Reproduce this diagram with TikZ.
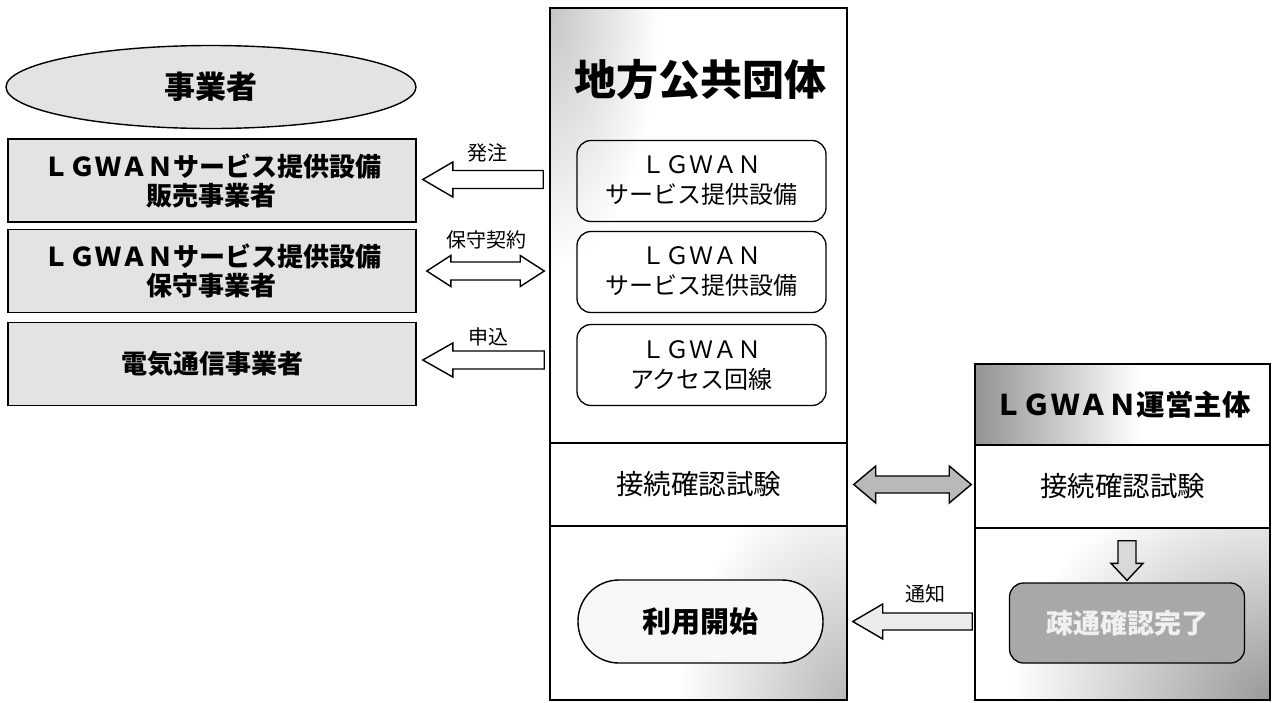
\documentclass[tikz,border=0pt]{standalone}
\usepackage{fontspec}
\setmainfont{Noto Sans CJK JP}
\usetikzlibrary{calc,shapes.geometric}
\newcommand\blockarrow[6][]{%
\draw[#1]($(#2)!#4!90:(#3)$)--($(#3)!#6!(#2)!#4!-90:(#2)$)--($(#3)!#6!(#2)!#5!-90:(#2)$)--(#3)
--($(#3)!#6!(#2)!#5!90:(#2)$)--($(#3)!#6!(#2)!#4!90:(#2)$)--($(#2)!#4!-90:(#3)$)--cycle;}
\newcommand\blockarrows[6][]{%
\draw[#1](#2)--($(#2)!#6!(#3)!#5!90:(#3)$)--($(#2)!#6!(#3)!#4!90:(#3)$)--($(#3)!#6!(#2)!#4!-90:(#2)$)
--($(#3)!#6!(#2)!#5!-90:(#2)$)--(#3)--($(#3)!#6!(#2)!#5!90:(#2)$)--($(#3)!#6!(#2)!#4!90:(#2)$)
--($(#2)!#6!(#3)!#4!-90:(#3)$)--($(#2)!#6!(#3)!#5!-90:(#3)$)--cycle;}
\tikzset{
dotfill/.style={fill=gray!22},
sbox/.style={draw,line width=1.6pt,dotfill,minimum width=408pt,minimum height=83pt,inner sep=0pt,
 align=center,font=\bfseries\fontsize{26}{29}\selectfont},
ibox/.style={draw,line width=1.3pt,rounded corners=14pt,minimum width=249pt,minimum height=81pt,
 inner sep=0pt,align=center,font=\fontsize{24}{30}\selectfont},
band/.style={draw,line width=1.5pt,inner sep=0pt,font=\fontsize{27.5}{27.5}\selectfont},
lab/.style={inner sep=0pt,font=\fontsize{20}{20}\selectfont},
barrow/.style={draw,line width=1.4pt,fill=white,line join=miter},
glow/.style={inner color=gray!#1,outer color=white}
}
\begin{document}
\begin{tikzpicture}[x=1pt,y=-1pt,semithick]
\useasboundingbox (0,0) rectangle (1272,702);
\begin{scope}
\clip (550,8) rectangle (847,443);
\shade[glow=45](550pt,-8pt) ellipse (110pt and 260pt);
\end{scope}
\begin{scope}
\clip (550,526) rectangle (847,700);
\shade[glow=55](847pt,-700pt) ellipse (170pt and 220pt);
\end{scope}
\shade[left color=gray!85,right color=white](975,364) rectangle (1140,445);
\begin{scope}
\clip (975,528) rectangle (1270,700);
\shade[glow=80](1270pt,-700pt) ellipse (260pt and 230pt);
\end{scope}
\node[ellipse,draw,line width=1.4pt,dotfill,minimum width=410pt,minimum height=83pt,inner sep=0pt,
 font=\bfseries\fontsize{31}{31}\selectfont](biz) at (211,87) {事業者};
\node[sbox](sell) at (212,180.5) {ＬＧＷＡＮサービス提供設備\\販売事業者};
\node[sbox](maint) at (212,271) {ＬＧＷＡＮサービス提供設備\\保守事業者};
\node[sbox](tel) at (212,364) {電気通信事業者};
\node[band,minimum width=297pt,minimum height=435pt](lgtop) at (698.5,225.5) {};
\node[band,minimum width=297pt,minimum height=83pt](lgtest) at (698.5,484.5) {接続確認試験};
\node[band,minimum width=297pt,minimum height=174pt](lgbot) at (698.5,613) {};
\node[inner sep=0pt,font=\bfseries\fontsize{42}{42}\selectfont](lgname) at (700,80) {地方公共団体};
\node[ibox](eq1) at (701.5,181) {ＬＧＷＡＮ\\サービス提供設備};
\node[ibox](eq2) at (701.5,272) {ＬＧＷＡＮ\\サービス提供設備};
\node[ibox](line) at (701.5,365) {ＬＧＷＡＮ\\アクセス回線};
\node[draw,line width=1.4pt,rounded corners=41pt,fill=gray!6,minimum width=245pt,minimum height=83pt,
 inner sep=0pt,font=\bfseries\fontsize{29}{29}\selectfont](use) at (700.5,621.5) {利用開始};
\node[band,minimum width=295pt,minimum height=81pt,font=\bfseries\fontsize{28.5}{28.5}\selectfont]
 (optop) at (1122.5,404.5) {ＬＧＷＡＮ運営主体};
\node[band,minimum width=295pt,minimum height=83pt](optest) at (1122.5,486.5) {接続確認試験};
\node[band,minimum width=295pt,minimum height=172pt](opbot) at (1122.5,614) {};
\node[draw,line width=1.3pt,rounded corners=14pt,fill=gray!68,minimum width=235pt,minimum height=80pt,
 inner sep=0pt,text=gray!12,font=\bfseries\fontsize{27}{27}\selectfont](done) at (1127,623) {疎通確認完了};
\coordinate (s1) at ([xshift=6pt,yshift=1pt]sell.east);
\coordinate (t1) at ([xshift=-6pt]lgtop.west |- s1);
\coordinate (s2) at ([xshift=10pt]maint.east);
\coordinate (t2) at ([xshift=-5pt]lgtop.west |- s2);
\coordinate (s3) at ([xshift=6pt,yshift=4pt]tel.east);
\coordinate (t3) at ([xshift=-5pt]lgtop.west |- s3);
\coordinate (s4) at ([xshift=6pt]lgtest.east);
\coordinate (t4) at ([xshift=-3pt]optest.west |- s4);
\coordinate (s5) at ([xshift=5pt]lgbot.east |- use);
\coordinate (t5) at ([xshift=-2pt]opbot.west |- s5);
\coordinate (t6) at ([yshift=-12pt]optest.south -| done);
\coordinate (s6) at ([yshift=2pt]done.north);
\blockarrow[barrow]{t1}{s1}{9pt}{17.5pt}{30pt}
\blockarrows[barrow]{s2}{t2}{9pt}{15.5pt}{24pt}
\blockarrow[barrow]{t3}{s3}{9pt}{17pt}{30pt}
\blockarrows[barrow,fill=gray!55]{s4}{t4}{8.5pt}{18.5pt}{22pt}
\blockarrow[barrow,fill=gray!15]{t5}{s5}{8.5pt}{17.5pt}{30pt}
\blockarrow[barrow,fill=gray!30]{t6}{s6}{9pt}{16pt}{17pt}
\node[lab](order) at (487,153) {発注};
\node[lab](contract) at (486,240) {保守契約};
\node[lab](apply) at (488,337) {申込};
\node[lab](notice) at (925,594) {通知};
\end{tikzpicture}
\end{document}
